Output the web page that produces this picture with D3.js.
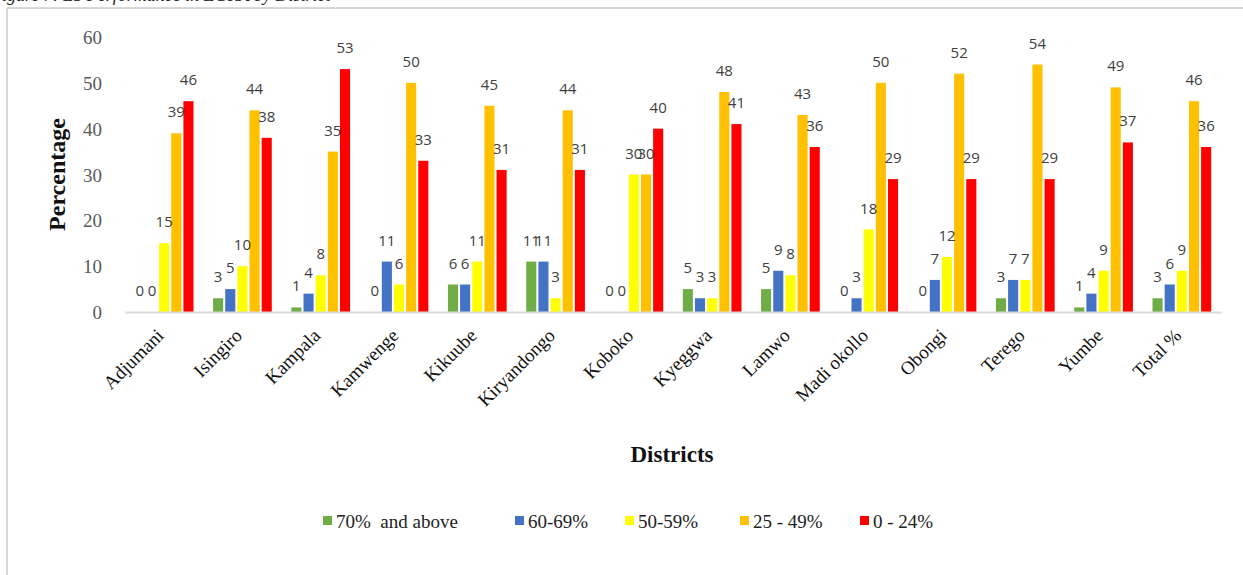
<!DOCTYPE html>
<html>
<head>
<meta charset="utf-8">
<script src="https://cdn.jsdelivr.net/npm/d3@7"></script>
<style>
  html, body { margin: 0; padding: 0; background: #fff; }
  svg { display: block; }
</style>
</head>
<body>
<svg id="chart" width="1243" height="575"></svg>
<script>
// Districts shown along the x axis
const districts = ["Adjumani", "Isingiro", "Kampala", "Kamwenge", "Kikuube", "Kiryandongo",
  "Koboko", "Kyeggwa", "Lamwo", "Madi okollo", "Obongi", "Terego", "Yumbe", "Total %"];

// Score bands (legend order)
const bands = ["70%  and above", "60-69%", "50-59%", "25 - 49%", "0 - 24%"];
const bandColors = ["#70AD47", "#4472C4", "#FFFF00", "#FFC000", "#FF0000"];

// Percentage of learners per band, one array per band, aligned with districts
const band70 = [0, 3, 1, 0, 6, 11, 0, 5, 5, 0, 0, 3, 1, 3];
const band60 = [0, 5, 4, 11, 6, 11, 0, 3, 9, 3, 7, 7, 4, 6];
const band50 = [15, 10, 8, 6, 11, 3, 30, 3, 8, 18, 12, 7, 9, 9];
const band25 = [39, 44, 35, 50, 45, 44, 30, 48, 43, 50, 52, 54, 49, 46];
const band0 = [46, 38, 53, 33, 31, 31, 40, 41, 36, 29, 29, 29, 37, 36];
const seriesValues = [band70, band60, band50, band25, band0];

const yTicks = [0, 10, 20, 30, 40, 50, 60];

const svg = d3.select("#chart");
const serif = "'Liberation Serif', 'DejaVu Serif', serif";
const sans = "'Open Sans', 'Liberation Sans', sans-serif";

// Caption line above the chart frame (clipped by the page edge)
svg.append("text")
  .attr("x", -9).attr("y", 1)
  .style("font-family", serif).style("font-style", "italic").style("font-size", "18px")
  .attr("fill", "#222")
  .text("Figure 7: LS Performance in EGRA by District");

// Chart frame
svg.append("line").attr("x1", 7).attr("x2", 7).attr("y1", 8).attr("y2", 575)
  .attr("stroke", "#d9d9d9").attr("stroke-width", 2);
svg.append("line").attr("x1", 7).attr("x2", 1243).attr("y1", 8).attr("y2", 8)
  .attr("stroke", "#d9d9d9").attr("stroke-width", 2);

const plot = { left: 125, right: 1221, top: 37, bottom: 312 };

const x = d3.scaleBand().domain(districts).range([plot.left, plot.right]).paddingInner(0.25).paddingOuter(0.125);
const xs = d3.scaleBand().domain(d3.range(bands.length)).range([0, x.bandwidth()]).paddingInner(0.17);
const y = d3.scaleLinear().domain([0, 60]).range([plot.bottom, plot.top]);

// Y tick labels
const yAxis = d3.axisLeft(y).tickValues(yTicks).tickSize(0).tickPadding(0);
const gy = svg.append("g").attr("transform", `translate(${plot.left - 23},0)`).call(yAxis);
gy.select(".domain").remove();
gy.selectAll("text")
  .style("font-family", serif).style("font-size", "19px").attr("fill", "#595959").attr("dy", "0.35em");

// Bars
const groups = svg.append("g").selectAll("g")
  .data(districts).join("g")
  .attr("transform", d => `translate(${x(d)},0)`);

groups.selectAll("rect")
  .data((d, i) => seriesValues.map((s, k) => ({ k, v: s[i] })))
  .join("rect")
  .attr("x", d => xs(d.k))
  .attr("width", xs.bandwidth())
  .attr("y", d => y(d.v))
  .attr("height", d => y(0) - y(d.v))
  .attr("fill", d => bandColors[d.k]);

// Value labels above each bar
groups.selectAll("text.val")
  .data((d, i) => seriesValues.map((s, k) => ({ k, v: s[i] })))
  .join("text")
  .attr("class", "val")
  .attr("x", d => xs(d.k) + xs.bandwidth() / 2)
  .attr("y", d => y(d.v) - 16)
  .attr("text-anchor", "middle")
  .style("font-family", sans).style("font-size", "15px").attr("fill", "#404040")
  .text(d => d.v);

// X axis line and rotated district labels
const xAxis = d3.axisBottom(x).tickSize(0).tickPadding(0);
const gx = svg.append("g").attr("transform", `translate(0,${plot.bottom})`).call(xAxis);
gx.select(".domain").attr("stroke", "#d9d9d9").attr("stroke-width", 2);
gx.selectAll("text")
  .style("font-family", serif).style("font-size", "19px").attr("fill", "#111")
  .attr("text-anchor", "end")
  .attr("transform", "translate(-4,20) rotate(-45)")
  .attr("dy", "0.35em");

// Axis titles
svg.append("text")
  .attr("transform", `translate(65,${(plot.top + plot.bottom) / 2}) rotate(-90)`)
  .attr("text-anchor", "middle")
  .style("font-family", serif).style("font-weight", "bold").style("font-size", "24px").attr("fill", "#111")
  .text("Percentage");

svg.append("text")
  .attr("x", 672).attr("y", 462)
  .attr("text-anchor", "middle")
  .style("font-family", serif).style("font-weight", "bold").style("font-size", "23px").attr("fill", "#111")
  .text("Districts");

// Legend
const legendX = [323, 515, 625, 740, 860];
const legend = svg.append("g").selectAll("g").data(bands).join("g")
  .attr("transform", (d, i) => `translate(${legendX[i]},521)`);
legend.append("rect").attr("x", 0).attr("y", -5).attr("width", 9).attr("height", 9)
  .attr("fill", (d, i) => bandColors[i]);
legend.append("text").attr("x", 13).attr("y", 0).attr("dy", "0.35em")
  .style("font-family", serif).style("font-size", "19px").attr("fill", "#222")
  .style("white-space", "pre")
  .text(d => d);
</script>
</body>
</html>
